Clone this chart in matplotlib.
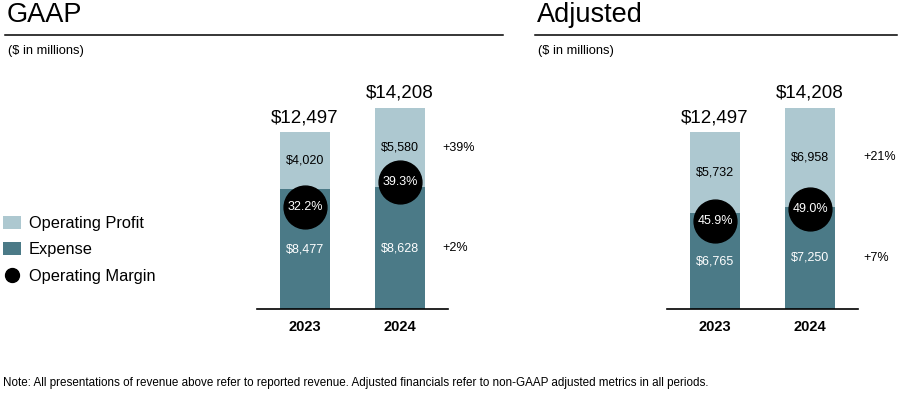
import matplotlib
matplotlib.use("Agg")
import matplotlib.pyplot as plt
from matplotlib.patches import Patch
from matplotlib.lines import Line2D

plt.rcParams['font.family'] = ['Liberation Sans', 'DejaVu Sans']

years = ["2023", "2024"]
gaap_expense = [8477, 8628]
gaap_profit = [4020, 5580]
gaap_total = [12497, 14208]
gaap_margin = [32.2, 39.3]
gaap_growth_profit = "+39%"
gaap_growth_expense = "+2%"

adj_expense = [6765, 7250]
adj_profit = [5732, 6958]
adj_total = [12497, 14208]
adj_margin = [45.9, 49.0]
adj_growth_profit = "+21%"
adj_growth_expense = "+7%"

LIGHT = "#adc8d0"
DARK = "#4b7a87"

W, H = 914, 394
fig = plt.figure(figsize=(W / 100, H / 100), dpi=100)


def fx(px):
    return px / W


def fy(py):
    return 1 - py / H


def panel(x0, title, expense, profit, total, margin, g_profit, g_exp, mlim, gx):
    # title, rule, subtitle
    fig.text(fx(x0[0] + 2), fy(15), title, fontsize=19.5, ha="left", va="center")
    fig.add_artist(Line2D([fx(x0[0]), fx(x0[1])], [fy(35), fy(35)],
                          color="black", lw=1.1))
    fig.text(fx(x0[0] + 3), fy(51), "($ in millions)", fontsize=9.3,
             ha="left", va="center")

    ax = fig.add_axes([fx(x0[2]), fy(309), fx(191), 226 / H])
    xs = range(len(years))
    ax.bar(xs, expense, width=0.526, color=DARK, zorder=2)
    ax.bar(xs, profit, width=0.526, bottom=expense, color=LIGHT, zorder=2)
    ax.set_xlim(-0.505, 1.505)
    ax.set_ylim(0, 16000)
    for i in xs:
        ax.text(i, expense[i] / 2, f"${expense[i]:,}", color="white",
                fontsize=9, ha="center", va="center", zorder=5)
        ax.text(i, expense[i] + profit[i] / 2, f"${profit[i]:,}", color="black",
                fontsize=9, ha="center", va="center", zorder=5)
        ax.text(i, total[i] + 1050, f"${total[i]:,}", color="black",
                fontsize=13.5, ha="center", va="center", zorder=5)
    last = len(years) - 1
    ax.text(gx, expense[last] + profit[last] / 2, g_profit, fontsize=9,
            ha="left", va="center", clip_on=False)
    ax.text(gx, expense[last] / 2, g_exp, fontsize=9,
            ha="left", va="center", clip_on=False)
    ax.set_xticks(list(xs))
    ax.set_xticklabels(years, fontsize=10.5, fontweight="bold")
    ax.tick_params(axis="x", length=0, pad=8)
    ax.set_yticks([])
    for s in ["left", "right", "top"]:
        ax.spines[s].set_visible(False)
    ax.spines["bottom"].set_linewidth(1.2)

    ax2 = ax.twinx()
    ax2.set_ylim(*mlim)
    ax2.scatter(list(xs), margin, s=950, color="black", zorder=4)
    for i in xs:
        ax2.text(i, margin[i], f"{margin[i]:.1f}%", color="white", fontsize=9,
                 ha="center", va="center", zorder=6)
    ax2.set_yticks([])
    for s in ["left", "right", "top", "bottom"]:
        ax2.spines[s].set_visible(False)
    return ax


panel((5, 503, 257), "GAAP", gaap_expense, gaap_profit, gaap_total,
      gaap_margin, gaap_growth_profit, gaap_growth_expense, (2.6, 68.1), 1.45)
panel((535, 897, 667), "Adjusted", adj_expense, adj_profit, adj_total,
      adj_margin, adj_growth_profit, adj_growth_expense, (23.7, 80.6), 1.56)

handles = [Patch(facecolor=LIGHT, edgecolor="none"),
           Patch(facecolor=DARK, edgecolor="none"),
           Line2D([], [], marker="o", color="black", linestyle="none",
                  markersize=10)]
labels = ["Operating Profit", "Expense", "Operating Margin"]
fig.legend(handles, labels, loc="upper left", bbox_to_anchor=(fx(0), fy(213)),
           frameon=False, fontsize=11.8, handlelength=1.1, handleheight=0.8,
           handletextpad=0.45, labelspacing=0.68, borderaxespad=0,
           borderpad=0.2)

fig.text(fx(3), fy(383), "Note: All presentations of revenue above refer to reported "
         "revenue. Adjusted financials refer to non-GAAP adjusted metrics in all periods.",
         fontsize=8.4, ha="left", va="center")

fig.savefig("out.png", dpi=100)
